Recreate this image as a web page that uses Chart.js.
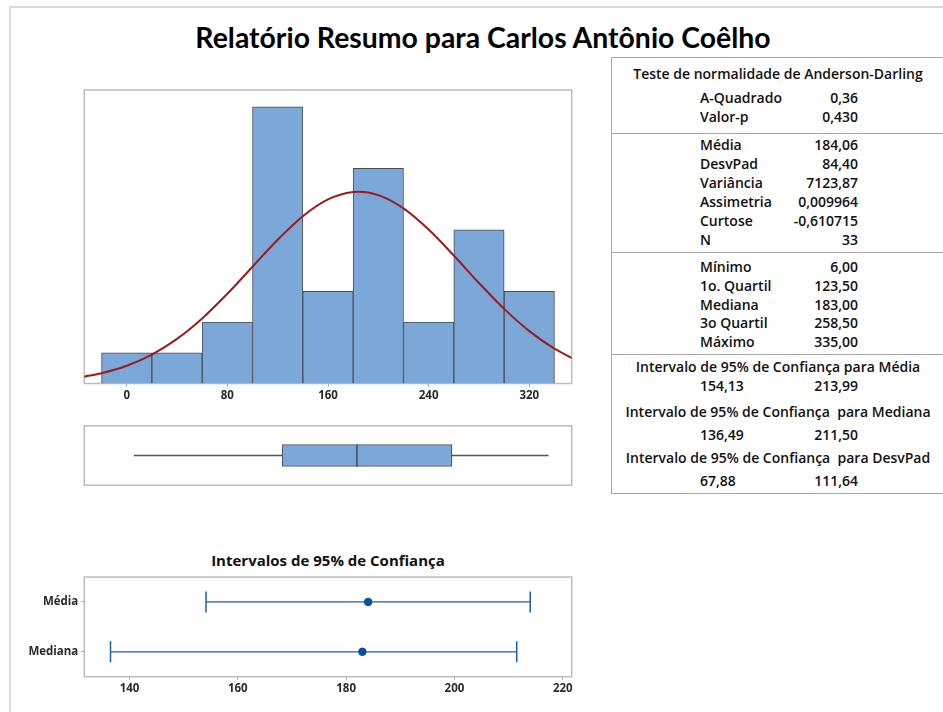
<!DOCTYPE html>
<html>
<head>
<meta charset="utf-8">
<script src="https://cdn.jsdelivr.net/npm/chart.js@4.4.1/dist/chart.umd.min.js"></script>
<style>
html,body{margin:0;padding:0;background:#fff;width:943px;height:712px;overflow:hidden;}
body{position:relative;font-family:'Open Sans',sans-serif;color:#111;}
#frame{position:absolute;left:9px;top:6px;width:960px;height:730px;border-left:2px solid #dadada;border-top:2px solid #dadada;}
#title{position:absolute;left:0;width:966px;top:19px;line-height:36px;text-align:center;font-family:'Lato',sans-serif;font-weight:700;font-size:28.4px;color:#000;white-space:nowrap;}
#ciTitle{position:absolute;left:0;width:656px;top:550px;line-height:20px;text-align:center;font-weight:700;font-size:15px;color:#111;white-space:nowrap;}
canvas{position:absolute;}
#table{position:absolute;left:611px;top:57px;width:360px;height:437px;border:1.5px solid #a8a8a8;box-sizing:border-box;}
.t{position:absolute;font-size:14px;font-weight:600;line-height:18px;white-space:nowrap;color:#111;}
.c{text-align:center;width:340px;left:608px;}
.sep{position:absolute;left:611px;width:340px;height:0;border-top:1.5px solid #a8a8a8;}
</style>
</head>
<body>
<div id="frame"></div>
<div id="title">Relatório Resumo para Carlos Antônio Coêlho</div>
<canvas id="hist" width="530" height="324" style="left:60px;top:80px;width:530px;height:324px;"></canvas>
<canvas id="box" width="530" height="85" style="left:60px;top:413px;width:530px;height:85px;"></canvas>
<div id="ciTitle">Intervalos de 95% de Confiança</div>
<canvas id="ci" width="570" height="132" style="left:20px;top:565px;width:570px;height:132px;"></canvas>
<div id="table"></div>
<script>
// ---------- data ----------
const binCenters = [0, 40, 80, 120, 160, 200, 240, 280, 320];
const binCounts  = [1, 1, 2, 9, 3, 7, 2, 5, 3];
const histTicks  = [0, 80, 160, 240, 320];
const curveX = [-34, -20, 0, 20, 40, 60, 80, 100, 120, 140, 160, 180, 184, 200, 220, 240, 260, 280, 300, 320, 340, 354];
const curveY = [0.222, 0.335, 0.579, 0.943, 1.454, 2.118, 2.918, 3.800, 4.678, 5.445, 5.991, 6.232, 6.239, 6.129, 5.699, 5.009, 4.163, 3.270, 2.429, 1.705, 1.132, 0.822];

const boxMin = 6, boxQ1 = 123.5, boxMedian = 183, boxQ3 = 258.5, boxMax = 335;

const ciNames   = ['Média', 'Mediana'];
const ciCenters = [184.06, 183.00];
const ciLow     = [154.13, 136.49];
const ciHigh    = [213.99, 211.50];
const ciTicks   = [140, 160, 180, 200, 220];

const adHeader  = 'Teste de normalidade de Anderson-Darling';
const adLabels  = ['A-Quadrado', 'Valor-p'];
const adValues  = ['0,36', '0,430'];
const statLabels = ['Média', 'DesvPad', 'Variância', 'Assimetria', 'Curtose', 'N'];
const statValues = ['184,06', '84,40', '7123,87', '0,009964', '-0,610715', '33'];
const quartLabels = ['Mínimo', '1o. Quartil', 'Mediana', '3o Quartil', 'Máximo'];
const quartValues = ['6,00', '123,50', '183,00', '258,50', '335,00'];
const intHeaders = ['Intervalo de 95% de Confiança para Média', 'Intervalo de 95% de Confiança  para Mediana', 'Intervalo de 95% de Confiança  para DesvPad'];
const intLows  = ['154,13', '136,49', '67,88'];
const intHighs = ['213,99', '211,50', '111,64'];

// ---------- table ----------
function addText(txt, cls, x, y, align) {
  const d = document.createElement('div');
  d.className = 't ' + (cls || '');
  d.textContent = txt.replace(/  /g, '\u00a0 ');
  d.style.top = (y - 9) + 'px';
  if (align === 'right') { d.style.right = (943 - x) + 'px'; d.style.textAlign = 'right'; }
  else if (align !== 'center') d.style.left = x + 'px';
  document.body.appendChild(d);
}
function addSep(y) { const s = document.createElement('div'); s.className = 'sep'; s.style.top = y + 'px'; document.body.appendChild(s); }
const LX = 700, RX = 858;
addText(adHeader, 'c', 0, 74, 'center');
adLabels.forEach((l, i) => { addText(l, '', LX, 98 + 19 * i); addText(adValues[i], '', RX, 98 + 19 * i, 'right'); });
addSep(133);
statLabels.forEach((l, i) => { addText(l, '', LX, 145 + 18.9 * i); addText(statValues[i], '', RX, 145 + 18.9 * i, 'right'); });
addSep(252);
quartLabels.forEach((l, i) => { addText(l, '', LX, 267 + 18.75 * i); addText(quartValues[i], '', RX, 267 + 18.75 * i, 'right'); });
addSep(354);
const hY = [367, 412, 458], vY = [386, 435, 481];
intHeaders.forEach((h, i) => {
  addText(h, 'c', 0, hY[i], 'center');
  addText(intLows[i], '', LX, vY[i]);
  addText(intHighs[i], '', RX, vY[i], 'right');
});

// ---------- charts ----------
const framePlugin = {
  id: 'frame',
  beforeDatasetsDraw(c) {
    const a = c.chartArea, ctx = c.ctx;
    ctx.save(); ctx.strokeStyle = '#bcbcbc'; ctx.lineWidth = 1.5;
    ctx.strokeRect(a.left, a.top, a.right - a.left, a.bottom - a.top);
    ctx.restore();
  }
};
const tickFont = { family: "'Open Sans', sans-serif", size: 11.5, weight: 'bold' };
const HMIN = -33.7, HMAX = 353.7;

function drawCharts() {
new Chart(document.getElementById('hist'), {
  type: 'bar',
  data: { datasets: [
    { type: 'line', data: curveX.map((x, i) => ({ x: x, y: curveY[i] })), borderColor: '#9b1b1e', borderWidth: 2,
      pointRadius: 0, cubicInterpolationMode: 'monotone', order: 0 },
    { type: 'bar', data: binCenters.map((x, i) => ({ x: x, y: binCounts[i] })), backgroundColor: '#7ba7d9',
      borderColor: '#4e4e4e', borderWidth: 1, barPercentage: 1, categoryPercentage: 1, order: 1 }
  ]},
  options: {
    animation: false, responsive: false,
    layout: { padding: { left: 24.3, right: 18.3, top: 10, bottom: 0 } },
    plugins: { legend: { display: false }, tooltip: { enabled: false } },
    scales: {
      x: { type: 'linear', min: HMIN, max: HMAX, offset: false,
           afterBuildTicks: s => { s.ticks = histTicks.map(v => ({ value: v })); },
           afterFit: s => { s.height = 20.5; },
           grid: { display: true, offset: false, drawOnChartArea: false, tickLength: 3, color: '#a0a0a0' },
           border: { display: false },
           ticks: { color: '#2a2a2a', font: tickFont, padding: 2, maxRotation: 0 } },
      y: { display: false, min: 0, max: 9.55 }
    }
  },
  plugins: [framePlugin]
});

new Chart(document.getElementById('box'), {
  type: 'bar',
  data: { labels: ['box'], datasets: [
    { type: 'scatter', data: [{ x: boxMedian, y: 'box' }], pointStyle: 'line', pointRotation: 90, pointRadius: 11,
      pointBorderColor: '#4e5862', pointBorderWidth: 1.8, borderColor: '#4e5862', order: 0 },
    { data: [[boxQ1, boxQ3]], backgroundColor: '#7ba7d9', borderColor: '#4e5862', borderWidth: 1.2,
      borderSkipped: false, barThickness: 22, grouped: false, order: 1 },
    { data: [[boxMin, boxQ1]], backgroundColor: '#555555', barThickness: 1, grouped: false, order: 2 },
    { data: [[boxQ3, boxMax]], backgroundColor: '#555555', barThickness: 1, grouped: false, order: 2 }
  ]},
  options: {
    indexAxis: 'y', animation: false, responsive: false,
    layout: { padding: { left: 24.3, right: 18.3, top: 10, bottom: 10.5 } },
    plugins: { legend: { display: false }, tooltip: { enabled: false } },
    scales: {
      x: { type: 'linear', min: HMIN, max: HMAX, display: false },
      y: { type: 'category', display: false }
    }
  },
  plugins: [framePlugin]
});

const ciColor = '#1b5eab';
new Chart(document.getElementById('ci'), {
  type: 'scatter',
  data: { datasets: [
    { data: ciNames.map((n, i) => ({ x: ciCenters[i], y: n })), pointStyle: 'circle', pointRadius: 3.8,
      pointBackgroundColor: '#0b4f9e', pointBorderColor: '#0b4f9e', pointBorderWidth: 1 },
    ...ciNames.map((n, i) => ({
      data: [{ x: ciLow[i], y: n }, { x: ciHigh[i], y: n }], showLine: true,
      borderColor: ciColor, borderWidth: 1.3, pointStyle: 'line', pointRotation: 90, pointRadius: 10.5,
      pointBorderColor: ciColor, pointBorderWidth: 1.5
    }))
  ]},
  options: {
    animation: false, responsive: false,
    layout: { padding: { left: 0, right: 18.3, top: 9.7, bottom: 0 } },
    plugins: { legend: { display: false }, tooltip: { enabled: false } },
    scales: {
      x: { type: 'linear', min: 131.65, max: 221.65,
           afterBuildTicks: s => { s.ticks = ciTicks.map(v => ({ value: v })); },
           afterFit: s => { s.height = 20.3; },
           grid: { display: true, drawOnChartArea: false, tickLength: 3, color: '#a0a0a0' },
           border: { display: false },
           ticks: { color: '#2a2a2a', font: tickFont, padding: 2, maxRotation: 0 } },
      y: { type: 'category', labels: ciNames, offset: true,
           afterFit: s => { s.width = 64.3; },
           grid: { display: true, offset: false, drawOnChartArea: false, tickLength: 3, color: '#a0a0a0' },
           border: { display: false },
           ticks: { color: '#2a2a2a', font: tickFont, padding: 3 } }
    }
  },
  plugins: [framePlugin]
});
}

let started = false;
function startOnce() { if (!started) { started = true; drawCharts(); } }
if (document.fonts && document.fonts.load) {
  Promise.all([
    document.fonts.load('bold 12px "Open Sans"', 'Média0123'),
    document.fonts.load('600 14px "Open Sans"', 'Média0123')
  ]).then(startOnce, startOnce);
  setTimeout(startOnce, 1500);
} else {
  startOnce();
}
</script>
</body>
</html>
